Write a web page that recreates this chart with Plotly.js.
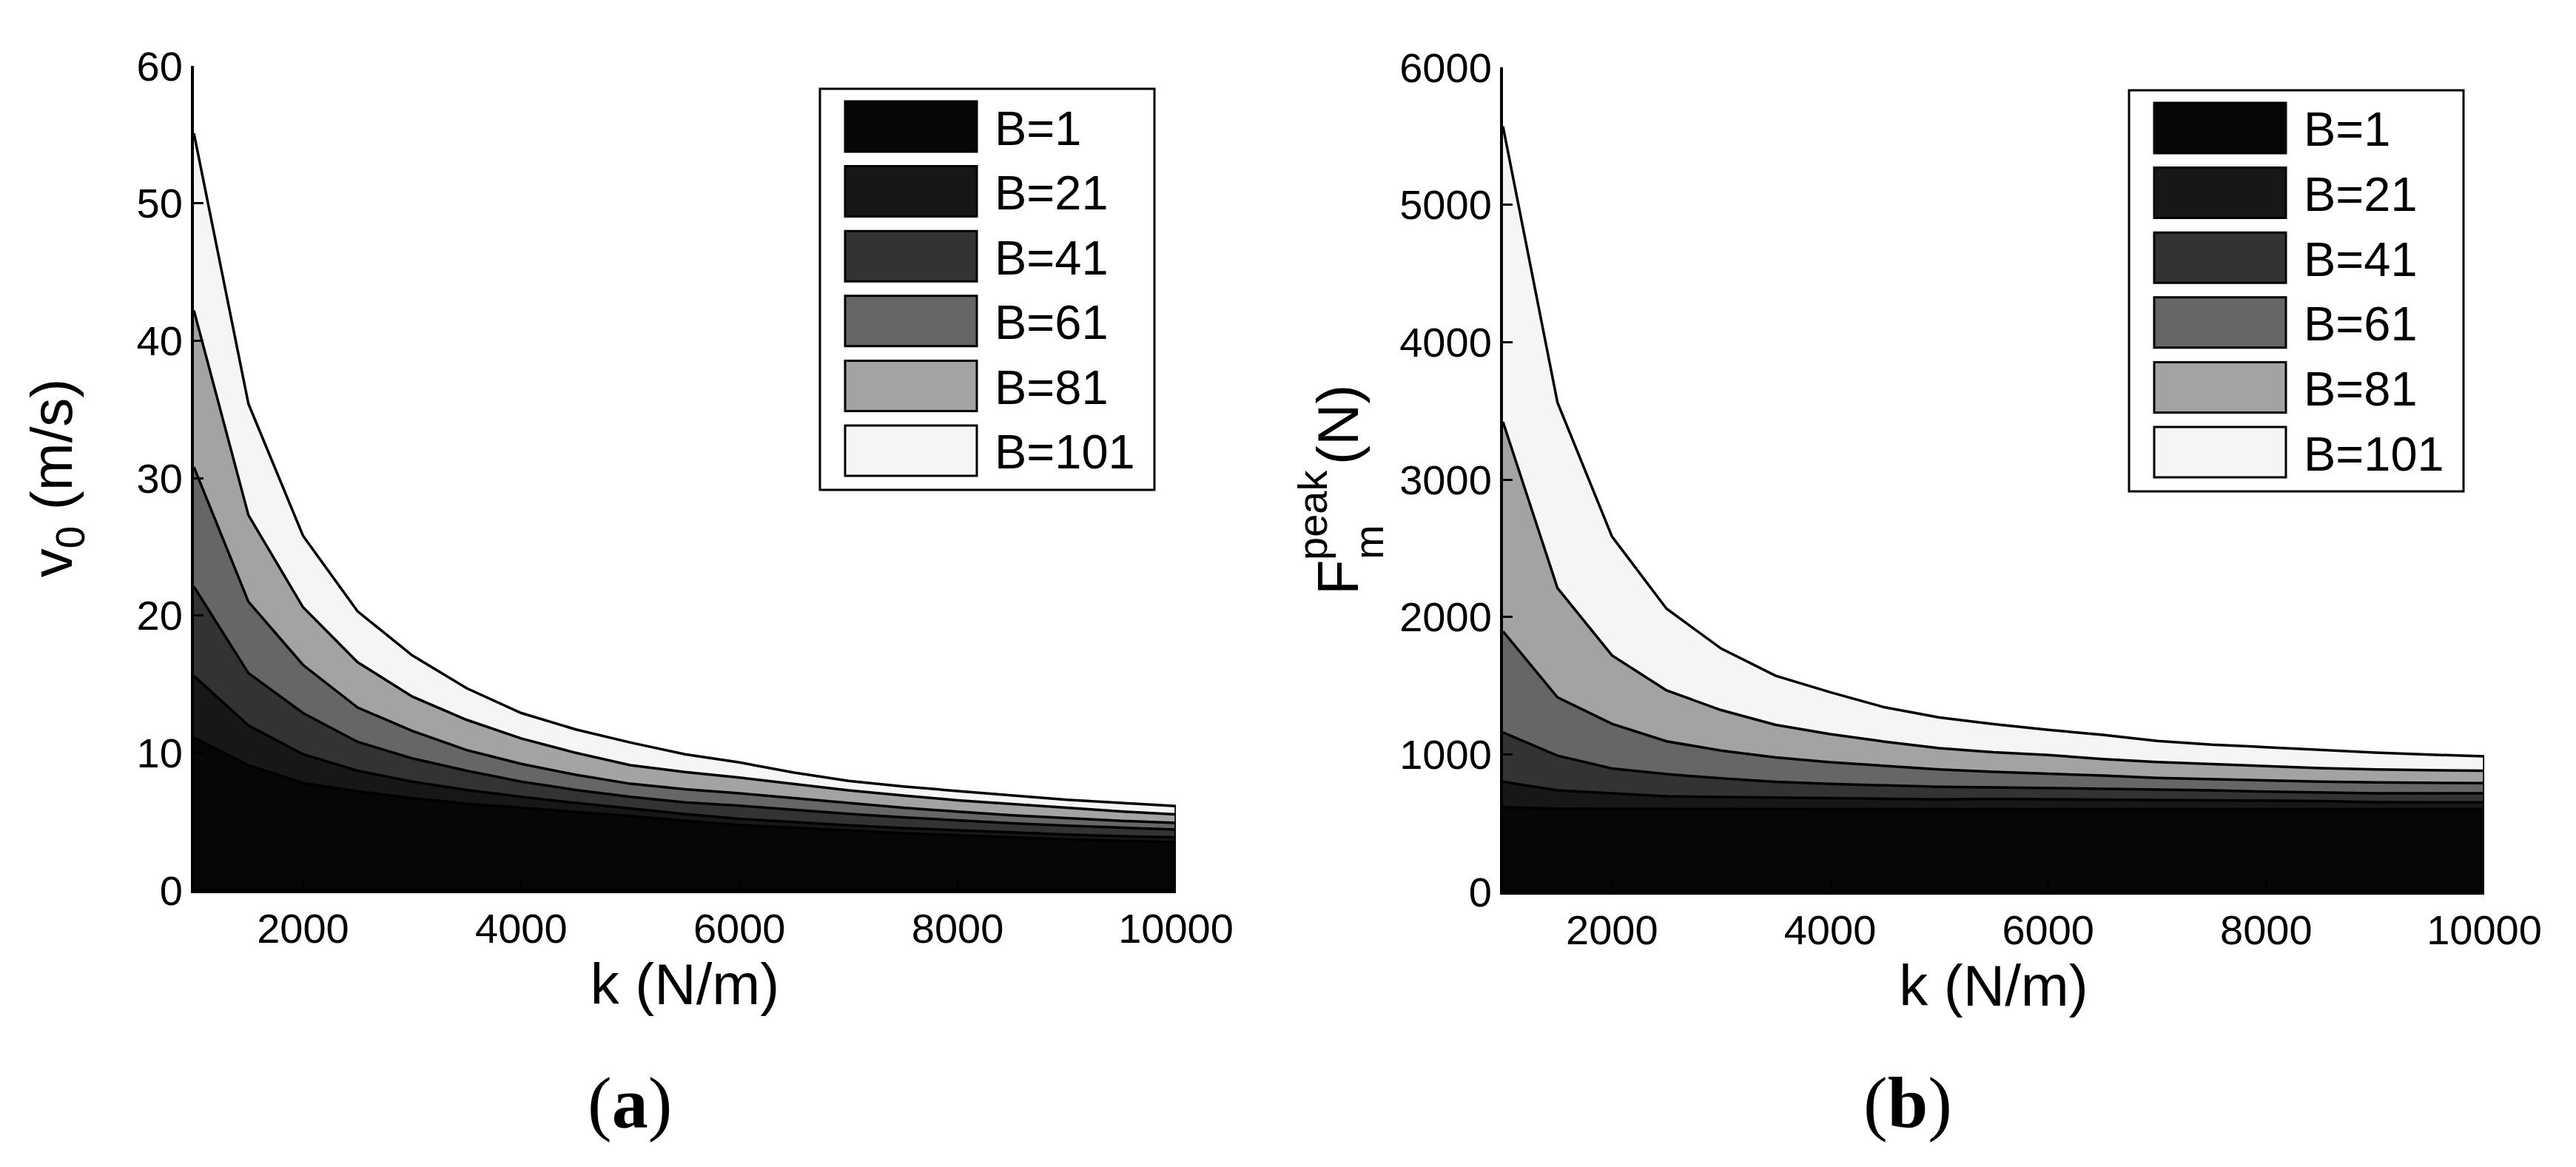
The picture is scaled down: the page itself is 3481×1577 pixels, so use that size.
<!DOCTYPE html>
<html>
<head>
<meta charset="utf-8">
<script src="https://cdn.plot.ly/plotly-3.0.1.min.js"></script>
<style>
  html, body { margin: 0; padding: 0; background: #fff; }
  #chart { width: 3481px; height: 1577px; }
</style>
</head>
<body>
<div id="chart"></div>
<script>
// spring stiffness k (N/m)
const kValues = [1000, 1500, 2000, 2500, 3000, 3500, 4000, 4500, 5000, 5500,
                 6000, 6500, 7000, 7500, 8000, 8500, 9000, 9500, 10000];

const bLabels = ['B=1', 'B=21', 'B=41', 'B=61', 'B=81', 'B=101'];
const bColors = ['#060606', '#171717', '#333333', '#666666', '#a3a3a3', '#f5f5f5'];

// (a) v0 (m/s)
const v0B1   = [11.1, 9.1, 7.8, 7.2, 6.7, 6.3, 6.0, 5.7, 5.4, 5.05, 4.75, 4.55, 4.35, 4.15, 4.0, 3.85, 3.7, 3.6, 3.5];
const v0B21  = [15.6, 12.0, 9.9, 8.7, 7.9, 7.3, 6.8, 6.35, 5.95, 5.55, 5.2, 4.95, 4.72, 4.52, 4.35, 4.2, 4.05, 3.93, 3.85];
const v0B41  = [22.1, 15.8, 12.9, 10.8, 9.6, 8.7, 7.9, 7.3, 6.8, 6.4, 6.15, 5.85, 5.56, 5.3, 5.08, 4.88, 4.7, 4.55, 4.42];
const v0B61  = [30.8, 21.0, 16.4, 13.3, 11.6, 10.2, 9.2, 8.4, 7.75, 7.35, 7.05, 6.7, 6.35, 6.0, 5.72, 5.45, 5.25, 5.05, 4.9];
const v0B81  = [42.2, 27.3, 20.6, 16.6, 14.1, 12.4, 11.05, 10.0, 9.1, 8.6, 8.2, 7.73, 7.27, 6.9, 6.55, 6.27, 6.0, 5.73, 5.52];
const v0B101 = [55.1, 35.4, 25.8, 20.3, 17.1, 14.7, 12.9, 11.7, 10.75, 9.9, 9.3, 8.56, 7.96, 7.55, 7.22, 6.9, 6.58, 6.35, 6.13];

// (b) Fm peak (N)
const fB1   = [615, 605, 603, 602, 602, 601, 601, 600, 600, 600, 600, 600, 600, 600, 600, 600, 600, 600, 600];
const fB21  = [800, 738, 716, 695, 690, 686, 682, 676, 672, 676, 674, 670, 668, 667, 665, 660, 652, 650, 650];
const fB41  = [1160, 990, 897, 856, 825, 800, 785, 772, 763, 760, 755, 748, 743, 738, 728, 722, 717, 716, 716];
const fB61  = [1895, 1415, 1222, 1095, 1027, 977, 943, 915, 890, 872, 860, 845, 828, 818, 810, 801, 796, 792, 790];
const fB81  = [3420, 2210, 1720, 1465, 1322, 1215, 1147, 1092, 1045, 1015, 995, 966, 944, 929, 913, 900, 890, 884, 880];
const fB101 = [5570, 3560, 2585, 2060, 1770, 1572, 1452, 1342, 1268, 1220, 1178, 1142, 1098, 1070, 1052, 1032, 1013, 998, 985];

const v0Series = [v0B1, v0B21, v0B41, v0B61, v0B81, v0B101];
const fSeries  = [fB1, fB21, fB41, fB61, fB81, fB101];

const W = 3481, H = 1577;
const FONT = 'Liberation Sans, Arial, Helvetica, sans-serif';
const SERIF = 'Liberation Serif, Times New Roman, serif';
const px = v => v / W;
const py = v => 1 - v / H;

// closed patch like matlab area(): curve, then down to zero and back
const kClosed = kValues.concat([kValues[kValues.length - 1], kValues[0]]);

function areaTrace(vals, color, name, xa, ya) {
    return {
        x: kClosed,
        y: vals.concat([0, 0]),
        type: 'scatter',
        mode: 'lines',
        fill: 'toself',
        fillcolor: color,
        line: { color: 'black', width: 3.5 },
        name: name,
        xaxis: xa,
        yaxis: ya,
        showlegend: false,
        hoverinfo: 'skip'
    };
}

let data = [];
// biggest first so the smaller ones sit on top
for (let i = bLabels.length - 1; i >= 0; i--) {
    data.push(areaTrace(v0Series[i], bColors[i], bLabels[i], 'x', 'y'));
}
for (let i = bLabels.length - 1; i >= 0; i--) {
    data.push(areaTrace(fSeries[i], bColors[i], bLabels[i], 'x2', 'y2'));
}

// panel boxes in pixels
const panelA = { x0: 262, x1: 1589, top: 89, bot: 1203 };
const panelB = { x0: 2031, x1: 3357, top: 91, bot: 1205 };

let shapes = [], annotations = [];

// legend box drawn by hand, matlab style
function addLegend(p) {
    const left = p.x0 + 846, right = p.x0 + 1298;
    const top = p.top + 31, bottom = p.top + 573;
    shapes.push({
        type: 'rect', xref: 'paper', yref: 'paper',
        x0: px(left), x1: px(right), y0: py(bottom), y1: py(top),
        line: { color: 'black', width: 3 }, fillcolor: 'white', layer: 'above'
    });
    for (let i = 0; i < bLabels.length; i++) {
        const cy = top + 51 + i * 87.6;
        shapes.push({
            type: 'rect', xref: 'paper', yref: 'paper',
            x0: px(left + 34), x1: px(left + 212), y0: py(cy + 34), y1: py(cy - 34),
            line: { color: 'black', width: 3 }, fillcolor: bColors[i], layer: 'above'
        });
        annotations.push({
            xref: 'paper', yref: 'paper', x: px(left + 234), y: py(cy + 2),
            xanchor: 'left', yanchor: 'middle', showarrow: false,
            text: bLabels[i], font: { family: FONT, size: 65, color: 'black' }
        });
    }
}
addLegend(panelA);
addLegend(panelB);

// panel letters
annotations.push({
    xref: 'paper', yref: 'paper', x: px(851), y: py(1490), xanchor: 'center', yanchor: 'middle',
    showarrow: false, text: '(<b>a</b>)', font: { family: SERIF, size: 98, color: 'black' }
});
annotations.push({
    xref: 'paper', yref: 'paper', x: px(2578), y: py(1490), xanchor: 'center', yanchor: 'middle',
    showarrow: false, text: '(<b>b</b>)', font: { family: SERIF, size: 98, color: 'black' }
});

// F_m^peak (N): sub and sup stacked, so built from pieces
const rot = { xref: 'paper', yref: 'paper', xanchor: 'center', yanchor: 'middle', showarrow: false, textangle: -90 };
annotations.push(Object.assign({}, rot, { x: px(1808), y: py(780), text: 'F', font: { family: FONT, size: 78, color: 'black' } }));
annotations.push(Object.assign({}, rot, { x: px(1849), y: py(733), text: 'm', font: { family: FONT, size: 56, color: 'black' } }));
annotations.push(Object.assign({}, rot, { x: px(1773), y: py(696), text: 'peak', font: { family: FONT, size: 56, color: 'black' } }));
annotations.push(Object.assign({}, rot, { x: px(1808), y: py(574), text: '(N)', font: { family: FONT, size: 78, color: 'black' } }));

const axisBase = {
    showline: true, linecolor: 'black', linewidth: 4,
    ticks: 'inside', ticklen: 13, tickwidth: 3, tickcolor: 'black',
    showgrid: false, zeroline: false, mirror: false, fixedrange: true,
    tickformat: 'd',
    tickfont: { family: FONT, size: 56, color: 'black' }
};
const titleFont = { family: FONT, size: 78, color: 'black' };

const layout = {
    width: W, height: H,
    margin: { l: 0, r: 0, t: 0, b: 0 },
    paper_bgcolor: 'white', plot_bgcolor: 'white',
    showlegend: false,
    xaxis: Object.assign({}, axisBase, {
        domain: [px(panelA.x0), px(panelA.x1)], range: [1000, 10000],
        tick0: 0, dtick: 2000, anchor: 'y',
        title: { text: 'k (N/m)', font: titleFont, standoff: 8 }
    }),
    yaxis: Object.assign({}, axisBase, {
        domain: [py(panelA.bot), py(panelA.top)], range: [0, 60],
        tick0: 0, dtick: 10, anchor: 'x',
        title: { text: 'v<sub>0</sub> (m/s)', font: titleFont, standoff: 62 }
    }),
    xaxis2: Object.assign({}, axisBase, {
        domain: [px(panelB.x0), px(panelB.x1)], range: [1000, 10000],
        tick0: 0, dtick: 2000, anchor: 'y2',
        title: { text: 'k (N/m)', font: titleFont, standoff: 8 }
    }),
    yaxis2: Object.assign({}, axisBase, {
        domain: [py(panelB.bot), py(panelB.top)], range: [0, 6000],
        tick0: 0, dtick: 1000, anchor: 'x2'
    }),
    shapes: shapes,
    annotations: annotations
};

Plotly.newPlot('chart', data, layout, { displayModeBar: false, staticPlot: true });
</script>
</body>
</html>
